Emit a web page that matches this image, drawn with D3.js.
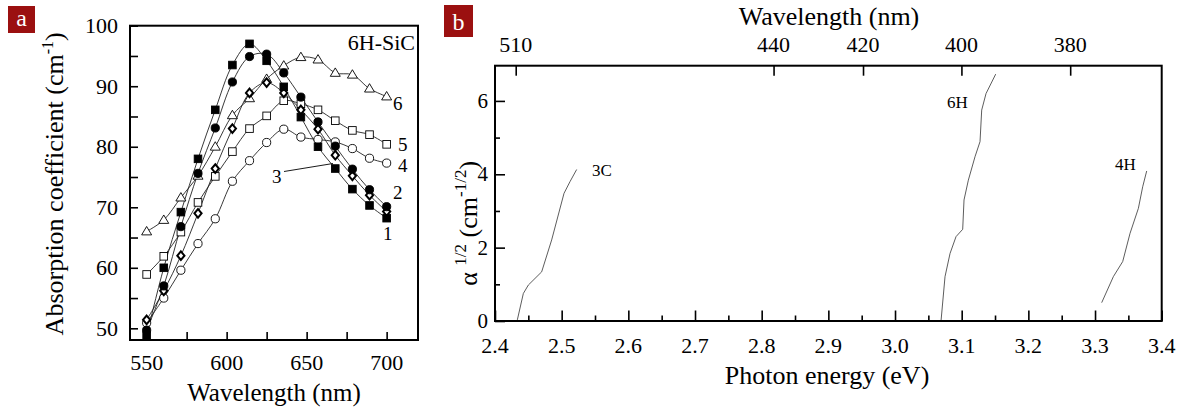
<!DOCTYPE html>
<html>
<head>
<meta charset="utf-8">
<script src="https://cdn.jsdelivr.net/npm/d3@7"></script>
<style>
  html, body { margin: 0; padding: 0; background: #fff; }
  svg { display: block; font-family: "Liberation Serif", "Times New Roman", Times, serif; }
</style>
</head>
<body>
<svg id="chart" width="1196" height="416"></svg>
<script>
// ---------- Panel a data ----------
const wavelengths = [550, 560.7, 571.4, 582.1, 592.9, 603.6, 614.3, 625, 635.7, 646.4, 657.1, 667.9, 678.6, 689.3, 700];
const series1 = [48.8, 60.0, 69.2, 78.0, 86.1, 93.5, 97.0, 94.2, 89.9, 84.9, 80.0, 76.4, 73.0, 70.3, 68.2];
const series2 = [49.7, 57.0, 66.8, 75.6, 83.1, 90.7, 94.9, 95.3, 92.2, 88.2, 84.1, 80.1, 76.3, 72.9, 70.1];
const series3 = [51.4, 56.2, 62.0, 69.0, 76.4, 83.0, 88.9, 90.6, 88.9, 86.1, 82.9, 78.6, 75.2, 72.0, 69.3];
const series4 = [50.9, 55.0, 59.6, 64.0, 68.1, 74.3, 77.7, 80.7, 82.9, 81.6, 81.2, 80.8, 79.7, 78.1, 77.3];
const series5 = [58.9, 61.9, 65.9, 70.8, 75.1, 79.2, 83.0, 85.1, 87.6, 87.1, 86.1, 84.3, 82.7, 82.0, 80.4];
const series6 = [66.0, 67.9, 71.6, 75.2, 80.0, 85.2, 88.0, 91.2, 93.4, 94.8, 94.4, 92.2, 91.9, 89.6, 88.3];
const seriesNames = ["1", "2", "3", "4", "5", "6"];
const markerTypes = ["squareFilled", "circleFilled", "diamond", "circleOpen", "squareOpen", "triangleOpen"];
const xTicksA = [550, 575, 600, 625, 650, 675, 700];
const xLabelsA = [550, 600, 650, 700];
const yTicksA = [50, 55, 60, 65, 70, 75, 80, 85, 90, 95, 100];
const yLabelsA = [50, 60, 70, 80, 90, 100];

// ---------- Panel b data ----------
const e3C = [2.4335, 2.4425, 2.450, 2.470, 2.485, 2.5035, 2.5125, 2.5225];
const a3C = [0.03, 0.75, 0.98, 1.34, 2.21, 3.48, 3.80, 4.13];
const e6H = [3.069, 3.075, 3.0825, 3.0915, 3.1015, 3.1035, 3.110, 3.120, 3.1275, 3.130, 3.1365, 3.151];
const a6H = [0.0, 1.21, 1.84, 2.30, 2.50, 3.30, 3.84, 4.48, 4.89, 5.75, 6.20, 6.73];
const e4H = [3.310, 3.3275, 3.3415, 3.3525, 3.365, 3.3715, 3.3775];
const a4H = [0.50, 1.21, 1.62, 2.39, 3.07, 3.66, 4.09];
const curveNamesB = ["3C", "6H", "4H"];
const xMajorB = [2.4, 2.5, 2.6, 2.7, 2.8, 2.9, 3.0, 3.1, 3.2, 3.3, 3.4];
const xMinorB = [2.45, 2.55, 2.65, 2.75, 2.85, 2.95, 3.05, 3.15, 3.25, 3.35];
const yMajorB = [0, 2, 4, 6];
const yMinorB = [1, 3, 5];
const topWavelengths = [510, 440, 420, 400, 380];

const svg = d3.select("#chart");

// ---------- Panel labels ----------
function panelTag(x, y, w, h, letter) {
  svg.append("rect").attr("x", x).attr("y", y).attr("width", w).attr("height", h).attr("fill", "#9b1010");
  svg.append("text").attr("x", x + w / 2).attr("y", y + h - 7).attr("text-anchor", "middle")
    .attr("fill", "#fff").attr("font-size", 24).text(letter);
}
panelTag(8, 6, 27, 27, "a");
panelTag(444, 5, 29, 32, "b");

// ---------- Panel a ----------
const A = { left: 130, top: 25.7, right: 418, bottom: 340 };
const xA = d3.scaleLinear().domain([539.6, 719.6]).range([A.left, A.right]);
const yA = d3.scaleLinear().domain([48.07, 100]).range([A.bottom, A.top]);
const gA = svg.append("g");

gA.append("g").attr("transform", `translate(0,${A.bottom})`)
  .call(d3.axisBottom(xA).tickValues(xTicksA).tickSize(-8).tickFormat(""))
  .call(g => g.select(".domain").remove())
  .selectAll("line").attr("stroke", "#000").attr("stroke-width", 1.6);
gA.append("g").attr("transform", `translate(${A.left},0)`)
  .call(d3.axisLeft(yA).tickValues(yTicksA).tickSize(-8).tickFormat(""))
  .call(g => g.select(".domain").remove())
  .selectAll("line").attr("stroke", "#000").attr("stroke-width", 1.6);

gA.selectAll(".xla").data(xLabelsA).enter().append("text")
  .attr("x", d => xA(d)).attr("y", 370).attr("text-anchor", "middle").attr("font-size", 22).text(d => d);
gA.selectAll(".yla").data(yLabelsA).enter().append("text")
  .attr("x", 118).attr("y", d => yA(d) + 7.5).attr("text-anchor", "end").attr("font-size", 22).text(d => d);

gA.append("text").attr("x", (A.left + A.right) / 2).attr("y", 401).attr("text-anchor", "middle")
  .attr("font-size", 25).text("Wavelength (nm)");
const yTitleA = gA.append("text").attr("transform", `translate(63,${(A.top + A.bottom) / 2 + 1}) rotate(-90)`)
  .attr("text-anchor", "middle").attr("font-size", 26);
yTitleA.append("tspan").text("Absorption coefficient (cm");
yTitleA.append("tspan").attr("font-size", 16).attr("dy", -10).text("-1");
yTitleA.append("tspan").attr("dy", 10).text(")");

const allSeries = [series1, series2, series3, series4, series5, series6];
const lineA = d3.line().x((d, i) => xA(wavelengths[i])).y(d => yA(d)).curve(d3.curveCatmullRom.alpha(0.5));
allSeries.forEach(s => {
  gA.append("path").datum(s).attr("d", lineA).attr("fill", "none").attr("stroke", "#222").attr("stroke-width", 0.9);
});

function drawMarker(g, type, cx, cy) {
  if (type === "squareFilled" || type === "squareOpen") {
    g.append("rect").attr("x", cx - 3.8).attr("y", cy - 3.8).attr("width", 7.6).attr("height", 7.6)
      .attr("fill", type === "squareFilled" ? "#000" : "#fff").attr("stroke", "#000").attr("stroke-width", 0.9);
  } else if (type === "circleFilled" || type === "circleOpen") {
    g.append("circle").attr("cx", cx).attr("cy", cy).attr("r", 4.1)
      .attr("fill", type === "circleFilled" ? "#000" : "#fff").attr("stroke", "#000").attr("stroke-width", 0.9);
  } else if (type === "diamond") {
    g.append("path").attr("d", `M${cx},${cy - 4.3}L${cx + 3.6},${cy}L${cx},${cy + 4.3}L${cx - 3.6},${cy}Z`)
      .attr("fill", "#fff").attr("stroke", "#000").attr("stroke-width", 2);
  } else if (type === "triangleOpen") {
    g.append("path").attr("d", `M${cx},${cy - 5}L${cx + 5},${cy + 3.4}L${cx - 5},${cy + 3.4}Z`)
      .attr("fill", "#fff").attr("stroke", "#000").attr("stroke-width", 0.9);
  }
}
[5, 4, 3, 2, 1, 0].forEach(k => {
  const mg = gA.append("g");
  allSeries[k].forEach((v, i) => drawMarker(mg, markerTypes[k], xA(wavelengths[i]), yA(v)));
});

gA.append("rect").attr("x", A.left).attr("y", A.top).attr("width", A.right - A.left).attr("height", A.bottom - A.top)
  .attr("fill", "none").attr("stroke", "#000").attr("stroke-width", 2);

gA.append("text").attr("x", 415).attr("y", 50).attr("text-anchor", "end").attr("font-size", 22).text("6H-SiC");

const seriesLabelPos = [[383, 240], [393, 199], [272, 183], [398, 172], [398, 151], [393, 110]];
seriesNames.forEach((n, k) => {
  gA.append("text").attr("x", seriesLabelPos[k][0]).attr("y", seriesLabelPos[k][1]).attr("font-size", 19).text(n);
});
gA.append("line").attr("x1", 284).attr("y1", 171.5).attr("x2", 333).attr("y2", 163.5).attr("stroke", "#000").attr("stroke-width", 0.9);

// ---------- Panel b ----------
const B = { left: 495, top: 65.7, right: 1161.7, bottom: 321 };
const xB = d3.scaleLinear().domain([2.4, 3.4]).range([B.left, B.right]);
const yB = d3.scaleLinear().domain([0, 6.96]).range([B.bottom, B.top]);
const gB = svg.append("g");

function tickGroup(axis, transform) {
  gB.append("g").attr("transform", transform).call(axis)
    .call(g => g.select(".domain").remove())
    .selectAll("line").attr("stroke", "#000").attr("stroke-width", 1.6);
}
tickGroup(d3.axisBottom(xB).tickValues(xMajorB).tickSize(-10.5).tickFormat(""), `translate(0,${B.bottom})`);
tickGroup(d3.axisBottom(xB).tickValues(xMinorB).tickSize(-5.5).tickFormat(""), `translate(0,${B.bottom})`);
tickGroup(d3.axisLeft(yB).tickValues(yMajorB).tickSize(-10).tickFormat(""), `translate(${B.left},0)`);
tickGroup(d3.axisLeft(yB).tickValues(yMinorB).tickSize(-5).tickFormat(""), `translate(${B.left},0)`);
const topE = topWavelengths.map(w => 1239.84 / w);
tickGroup(d3.axisTop(xB).tickValues(topE).tickSize(-10).tickFormat(""), `translate(0,${B.top})`);

gB.selectAll(".xlb").data(xMajorB).enter().append("text")
  .attr("x", d => xB(d)).attr("y", 353).attr("text-anchor", "middle").attr("font-size", 22).text(d => d.toFixed(1));
gB.selectAll(".ylb").data(yMajorB).enter().append("text")
  .attr("x", 488).attr("y", d => yB(d) + 7).attr("text-anchor", "end").attr("font-size", 21).text(d => d);
gB.selectAll(".tlb").data(topWavelengths).enter().append("text")
  .attr("x", d => xB(1239.84 / d)).attr("y", 52).attr("text-anchor", "middle").attr("font-size", 22).text(d => d);

gB.append("text").attr("x", 829).attr("y", 25).attr("text-anchor", "middle").attr("font-size", 26).text("Wavelength (nm)");
gB.append("text").attr("x", 827).attr("y", 384).attr("text-anchor", "middle").attr("font-size", 26).text("Photon energy (eV)");

const yTitleB = gB.append("text").attr("transform", `translate(477,${(B.top + B.bottom) / 2 + 30}) rotate(-90)`)
  .attr("text-anchor", "middle").attr("font-size", 26);
yTitleB.append("tspan").text("α ");
yTitleB.append("tspan").attr("font-size", 17).attr("dy", -11).text("1/2");
yTitleB.append("tspan").attr("dy", 11).text(" (cm");
yTitleB.append("tspan").attr("font-size", 17).attr("dy", -11).text("-1/2");
yTitleB.append("tspan").attr("dy", 11).text(")");

const curvesB = [[e3C, a3C], [e6H, a6H], [e4H, a4H]];
const lineB = d3.line().x(d => xB(d[0])).y(d => yB(d[1]));
curvesB.forEach(([es, as]) => {
  gB.append("path").datum(es.map((e, i) => [e, as[i]])).attr("d", lineB)
    .attr("fill", "none").attr("stroke", "#333").attr("stroke-width", 0.8);
});
const curveLabelPos = [[592, 176], [947, 108], [1115, 170]];
curveNamesB.forEach((n, k) => {
  gB.append("text").attr("x", curveLabelPos[k][0]).attr("y", curveLabelPos[k][1]).attr("font-size", 17).text(n);
});

gB.append("rect").attr("x", B.left).attr("y", B.top).attr("width", B.right - B.left).attr("height", B.bottom - B.top)
  .attr("fill", "none").attr("stroke", "#000").attr("stroke-width", 2);
</script>
</body>
</html>
